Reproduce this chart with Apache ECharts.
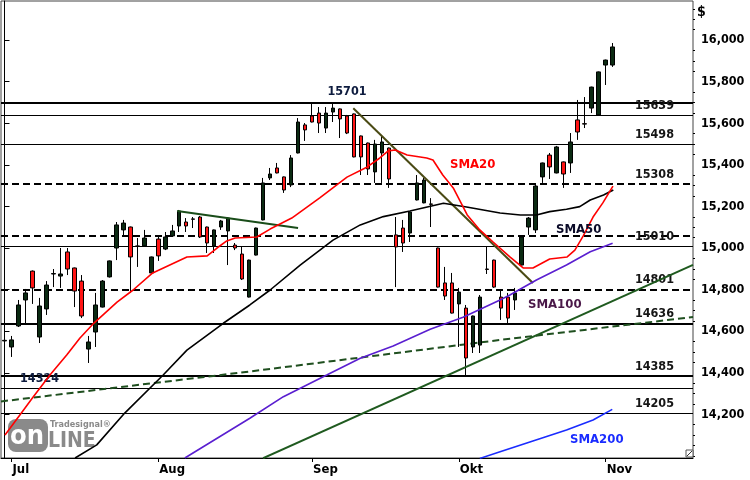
<!DOCTYPE html>
<html><head><meta charset="utf-8">
<script src="https://cdn.jsdelivr.net/npm/echarts@6/dist/echarts.min.js"></script>
<style>html,body{margin:0;padding:0;background:#fff}#c{width:750px;height:480px}</style>
</head><body><div id="c"></div>
<script>
// ---- data ----
const categories = Array.from({length: 99}, (_, i) => String(i));
const monthTicks = [1, 22, 44, 65, 86];
const monthLabels = ['Jul', 'Aug', 'Sep', 'Okt', 'Nov'];
const yTickValues = [14200, 14400, 14600, 14800, 15000, 15200, 15400, 15600, 15800, 16000];

// [open, close, low, high]
const ohlc = [
[14553,14556,14524,14582],[14524,14558,14476,14577],[14625,14726,14620,14750],[14750,14784,14639,14803],
[14889,14808,14731,14892],[14572,14721,14543,14760],[14707,14822,14678,14841],[14875,14877,14812,14899],
[14865,14875,14808,15000],[14981,14899,14870,15000],[14904,14793,14716,14906],[14841,14673,14663,14870],
[14514,14548,14447,14577],[14596,14726,14524,14784],[14716,14841,14714,14846],[14861,14938,14858,14940],
[15000,15111,14942,15125],[15087,15120,15053,15135],[15101,14957,14784,15103],[15010,15008,14909,15048],
[15010,15048,15005,15087],[14880,14957,14878,14959],[15043,14962,14938,15058],[14995,15053,14990,15077],
[15058,15082,15053,15111],[15106,15178,15077,15183],[15125,15106,15077,15144],[15140,15138,15096,15149],
[15149,15053,15048,15154],[15101,15024,14976,15103],[15010,15087,14976,15089],[15101,15130,15087,15135],
[15082,15144,14918,15149],[15014,15000,14990,15024],[14971,14851,14846,15005],[14764,14942,14762,14944],
[14966,15096,14964,15098],[15135,15313,15133,15337],[15337,15356,15327,15385],[15385,15361,15359,15409],
[15342,15279,15265,15344],[15303,15433,15293,15447],[15457,15606,15455,15625],[15592,15568,15515,15601],
[15635,15606,15604,15699],[15649,15601,15553,15678],[15577,15649,15553,15678],[15654,15673,15606,15701],
[15669,15621,15529,15671],[15635,15553,15548,15640],[15645,15438,15436,15647],[15539,15438,15351,15541],
[15505,15380,15351,15507],[15366,15500,15313,15520],[15457,15510,15313,15539],[15481,15332,15289,15483],
[15063,15005,14812,15149],[15096,15024,14981,15135],[15072,15173,15029,15175],[15231,15313,15229,15351],
[15217,15327,15215,15337],[15212,15210,15101,15240],[15000,14812,14810,15002],[14832,14769,14750,14909],
[14832,14687,14685,14880],[14731,14788,14524,14808],[14711,14471,14389,14726],[14524,14673,14495,14675],
[14533,14764,14495,14774],[14899,14897,14875,15005],[14942,14812,14808,14944],[14764,14711,14654,14798],
[14764,14663,14639,14784],[14750,14784,14702,14808],[14918,15053,14916,15055],[15101,15144,15063,15149],
[15087,15298,15072,15308],[15342,15409,15313,15411],[15447,15390,15332,15457],[15361,15486,15359,15491],
[15414,15356,15289,15416],[15409,15510,15361,15553],[15616,15558,15520,15712],[15598,15596,15577,15726],
[15673,15774,15649,15776],[15640,15847,15638,15849],[15880,15904,15784,15906],[15880,15967,15871,15986]
];

// moving averages: [index, value]
const sma20 = [[0.07,14101],[2.2,14197],[4.1,14283],[6.5,14389],[8.9,14485],[10.8,14567],[12.8,14639],
[16.1,14740],[18.4,14798],[21.2,14880],[26.1,14957],[29.0,14962],[30.4,15000],[31.8,15034],[33.0,15048],
[36.1,15053],[38.0,15091],[41.1,15144],[45.1,15241],[49.0,15341],[51.9,15390],[53.7,15433],[54.9,15467],
[55.9,15471],[57.6,15447],[60.4,15433],[61.3,15423],[62.7,15351],[64.2,15289],[66.2,15159],[68.0,15087],
[69.9,15029],[72.3,14957],[74.2,14904],[75.6,14904],[78.0,14947],[80.5,14957],[81.6,14990],[82.8,15058],
[84.2,15149],[85.6,15217],[87.05,15298]];
const sma50 = [[10.1,13990],[13.2,14053],[17.2,14206],[22.7,14389],[26.1,14509],[31.3,14638],[35.1,14726],
[38.0,14798],[42.3,14918],[47.0,15038],[50.9,15111],[54.2,15151],[58.0,15178],[62.8,15215],[66.1,15197],
[70.9,15168],[73.8,15159],[76.1,15159],[78.0,15175],[80.4,15186],[82.3,15199],[83.8,15231],[85.7,15255],[87.1,15279]];
const sma100 = [[25.8,13990],[35.1,14181],[39.9,14285],[46.1,14389],[50.9,14470],[55.6,14529],[60.9,14609],
[65.6,14667],[70.9,14750],[72.3,14774],[76.1,14846],[80.4,14918],[83.8,14982],[87.0,15023]];
const sma200 = [[68.0,13988],[70.9,14020],[75.6,14072],[80.4,14125],[84.2,14173],[86.95,14224]];
const dashedTrend = [[-0.5,14262],[35.1,14406],[70.9,14558],[98.5,14668]];
const longTrend = [[37.0,13989],[98.5,14919]];
const downTrend = [[49.9,15672],[75.6,14832]];
const shortTrend = [[24.7,15178],[42.0,15096]];

const levels = [
  {v:15701, kind:'thick', label:'15701', pos:'insideMiddleTop', color:'#0d1b3e'},
  {v:15639, kind:'thin', label:'15639', pos:'insideEndTop'},
  {v:15498, kind:'thin', label:'15498', pos:'insideEndTop'},
  {v:15308, kind:'dash', label:'15308', pos:'insideEndTop'},
  {v:15058, kind:'dash', label:'', pos:'insideEndTop'},
  {v:15010, kind:'thin', label:'15010', pos:'insideEndTop'},
  {v:14801, kind:'dash', label:'14801', pos:'insideEndTop'},
  {v:14636, kind:'thick', label:'14636', pos:'insideEndTop'},
  {v:14385, kind:'thick', label:'14385', pos:'insideEndTop'},
  {v:14324, kind:'thin', label:'14324', pos:'insideStartTop', color:'#0d1b3e'},
  {v:14205, kind:'thin', label:'14205', pos:'insideEndTop'}
];

// ---- chart ----
const FONT = '"DejaVu Sans Condensed", "DejaVu Sans", Verdana, sans-serif';
const minorTicks = [];
for (let v = 14000; v <= 16150; v += 50) if (!yTickValues.includes(v)) minorTicks.push(v);

const lineStyles = {
  thick: {color:'#000', width:2, type:'solid'},
  thin: {color:'#000', width:1, type:'solid'},
  dash: {color:'#000', width:2, type:[7,4]}
};

const markData = levels.map(l => ({
  yAxis: l.v,
  lineStyle: lineStyles[l.kind],
  label: {
    show: !!l.label, formatter: l.label, position: l.pos,
    distance: l.pos === 'insideMiddleTop' ? [0, 4] : [19, 3],
    color: l.color || '#151515', fontFamily: FONT, fontWeight: 'bold', fontSize: 12.5
  }
}));

function lineSeries(data, color, width, z, type) {
  return {type:'line', xAxisIndex:1, yAxisIndex:0, data, showSymbol:false, symbol:'none',
    smooth:false, silent:true, z, clip:true,
    lineStyle:{color, width, type: type || 'solid'}};
}

const chart = echarts.init(document.getElementById('c'), null, {renderer:'canvas'});
chart.setOption({
  animation: false,
  backgroundColor: '#fff',
  grid: {left:1, top:1, width:692, height:457, show:true, borderColor:'#444', borderWidth:1, backgroundColor:'#fff'},
  xAxis: [{
    type:'category', data: categories, boundaryGap: true,
    axisLine:{show:true, lineStyle:{color:'#000', width:1}},
    axisTick:{show:true, alignWithLabel:true, length:4, interval:(i)=>monthTicks.includes(i), lineStyle:{color:'#000'}},
    axisLabel:{show:true, interval:(i)=>monthTicks.includes(i),
      formatter:(v, i)=>{const k = monthTicks.indexOf(i); return k >= 0 ? monthLabels[k] : '';},
      align:'left', margin:5, padding:[0,0,0,1], color:'#000', fontFamily:FONT, fontWeight:'bold', fontSize:13},
    splitLine:{show:false}
  }, {
    type:'value', min:-0.5, max:98.5, show:false, splitLine:{show:false}
  }],
  yAxis: [{
    type:'value', position:'right', min:13990, max:16188, scale:true,
    axisLine:{show:true, lineStyle:{color:'#000', width:1}},
    axisTick:{show:true, length:5, customValues: yTickValues, lineStyle:{color:'#000'}},
    axisLabel:{show:true, customValues: yTickValues, margin:8, color:'#000', fontFamily:FONT, fontWeight:'bold', fontSize:12.5},
    splitLine:{show:false}
  }, {
    type:'value', position:'right', min:13990, max:16188,
    axisLine:{show:false},
    axisTick:{show:true, length:2, customValues: minorTicks, lineStyle:{color:'#000'}},
    axisLabel:{show:false}, splitLine:{show:false}
  }],
  series: [
    Object.assign(lineSeries(dashedTrend, '#1f4f1f', 2, 2, [7,4]), {
      markLine:{silent:true, z:1, symbol:['none','none'], animation:false, data: markData}
    }),
    {
      type:'candlestick', data: ohlc, xAxisIndex:0, yAxisIndex:0, barWidth:4, z:3, silent:true,
      itemStyle:{color:'#0b2a12', color0:'#ff1414', borderColor:'#000', borderColor0:'#000', borderWidth:1}
    },
    lineSeries(longTrend, '#1f5a1f', 2, 4),
    lineSeries(shortTrend, '#1a4d1a', 2, 4),
    lineSeries(downTrend, '#4a4a14', 2, 4),
    lineSeries(sma200, '#1a2cff', 1.6, 5),
    lineSeries(sma100, '#5a1fd0', 1.6, 5),
    lineSeries(sma50, '#000000', 1.6, 5),
    lineSeries(sma20, '#ff0000', 1.6, 6)
  ],
  graphic: [
    {type:'rect', z:1, shape:{x:8, y:419, width:40, height:33, r:8}, style:{fill:'#8a8a8a'}},
    {type:'text', z:1, x:10, y:437, style:{text:'on', fill:'#fff', font:'bold 27px ' + FONT, verticalAlign:'middle'}},
    {type:'text', z:1, x:48, y:442, style:{text:'LINE', fill:'#8a8a8a', font:'bold 21px ' + FONT, verticalAlign:'middle'}},
    {type:'text', z:1, x:50, y:425, style:{text:'Tradesignal®', fill:'#8a8a8a', font:'bold 9px ' + FONT, verticalAlign:'middle'}},
    {type:'text', z:10, x:450, y:165, style:{text:'SMA20', fill:'#ff0000', font:'bold 13px ' + FONT, verticalAlign:'middle'}},
    {type:'text', z:10, x:556, y:230, style:{text:'SMA50', fill:'#0a0a28', font:'bold 13px ' + FONT, verticalAlign:'middle'}},
    {type:'text', z:10, x:528, y:305, style:{text:'SMA100', fill:'#4a1848', font:'bold 13px ' + FONT, verticalAlign:'middle'}},
    {type:'text', z:10, x:570, y:440, style:{text:'SMA200', fill:'#1a2cff', font:'bold 13px ' + FONT, verticalAlign:'middle'}},
    {type:'text', z:10, x:697, y:12, style:{text:'$', fill:'#000', font:'bold 14px ' + FONT, verticalAlign:'middle'}},
    {type:'rect', z:10, shape:{x:686, y:450, width:7, height:7}, style:{fill:'#fff', stroke:'#555', lineWidth:1}},
    {type:'line', z:10, shape:{x1:687, y1:456, x2:692, y2:451}, style:{stroke:'#333', lineWidth:1}}
  ]
});
</script>
</body></html>
